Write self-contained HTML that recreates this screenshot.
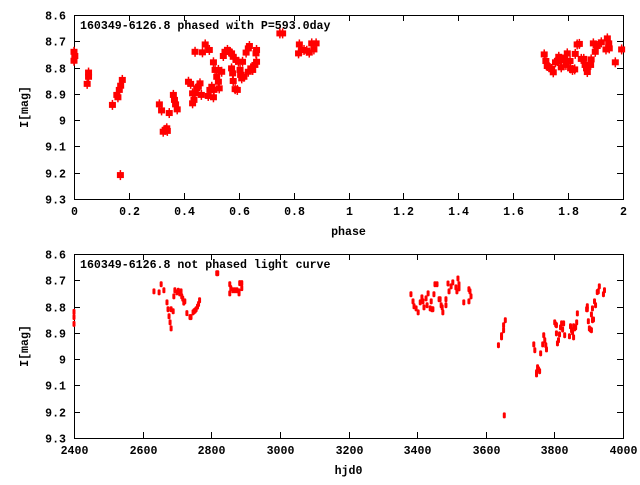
<!DOCTYPE html>
<html><head><meta charset="utf-8"><style>
body{margin:0;background:#fff}
svg text{font-family:"Liberation Mono","DejaVu Sans Mono",monospace;font-weight:bold;font-size:11.6px;fill:#000}
</style></head><body>
<svg id="c" width="640" height="480" xmlns="http://www.w3.org/2000/svg"></svg>
<script>
const topPhase=[0.0,0.0,0.003,0.048,0.053,0.053,0.14,0.156,0.160,0.165,0.170,0.176,0.169,0.311,0.319,0.325,0.332,0.338,0.340,0.347,0.362,0.366,0.370,0.376,0.417,0.425,0.432,0.432,0.437,0.441,0.441,0.447,0.453,0.459,0.464,0.468,0.478,0.489,0.493,0.495,0.502,0.508,0.508,0.510,0.514,0.520,0.526,0.529,0.526,0.538,0.544,0.550,0.559,0.566,0.574,0.580,0.574,0.578,0.580,0.587,0.595,0.590,0.599,0.605,0.607,0.614,0.611,0.619,0.627,0.635,0.639,0.635,0.644,0.651,0.659,0.665,0.663,0.665,0.750,0.760,0.818,0.821,0.829,0.838,0.848,0.857,0.866,0.874,0.882,
1.713,1.719,1.724,1.731,1.740,1.746,1.754,1.761,1.766,1.771,1.775,1.783,1.788,1.792,1.797,1.807,1.809,1.816,1.824,1.826,1.833,1.841,1.848,1.857,1.862,1.867,1.870,1.882,1.884,1.892,1.899,1.906,1.921,1.938,1.943,1.948,1.950,1.972,1.995];
const topMag=[8.774,8.740,8.756,8.862,8.819,8.835,8.942,8.904,8.913,8.885,8.869,8.847,9.209,8.940,8.963,9.044,9.037,9.031,9.041,8.973,8.904,8.923,8.940,8.959,8.854,8.862,8.898,8.936,8.923,8.898,8.740,8.879,8.873,8.860,8.904,8.742,8.712,8.908,8.733,8.885,8.873,8.913,8.780,8.885,8.809,8.835,8.854,8.879,8.809,8.816,8.756,8.740,8.733,8.740,8.746,8.759,8.803,8.822,8.851,8.882,8.885,8.771,8.778,8.809,8.828,8.778,8.841,8.835,8.743,8.727,8.718,8.816,8.803,8.809,8.790,8.778,8.746,8.733,8.670,8.670,8.746,8.712,8.733,8.733,8.736,8.743,8.708,8.731,8.708,
8.750,8.775,8.794,8.799,8.805,8.818,8.780,8.775,8.759,8.771,8.799,8.771,8.762,8.790,8.746,8.775,8.803,8.809,8.807,8.748,8.712,8.710,8.767,8.767,8.790,8.803,8.817,8.790,8.769,8.708,8.740,8.718,8.704,8.731,8.689,8.708,8.727,8.780,8.731];
const botHjd=[2400,2400,2400,2633,2648,2654,2662,2671,2674,2677,2680,2683,2683,2689,2691,2694,2700,2704,2708,2712,2714,2717,2720,2723,2729,2738,2741,2747,2750,2753,2756,2760,2763,2766,2816,2819,2854,2854,2857,2863,2869,2875,2881,2881,2883,2889,2889,
3382,3388,3391,3397,3403,3409,3414,3417,3420,3426,3429,3432,3438,3441,3443,3446,3449,3452,3458,3464,3467,3470,3473,3475,3484,3484,3490,3493,3499,3504,3513,3516,3519,3522,3522,3536,3551,3551,3554,3557,
3637,3646,3646,3652,3652,3657,3654,3740,3743,3748,3748,3751,3754,3757,3760,3766,3769,3772,3775,3777,3801,3804,3806,3806,3809,3812,3815,3818,3821,3824,3827,3830,3844,3847,3850,3853,3856,3856,3859,3862,3865,3867,3894,3896,3896,3899,3902,3905,3908,3908,3911,3911,3914,3917,3920,3925,3928,3931,3943,3946];
const botMag=[8.820,8.840,8.866,8.742,8.746,8.715,8.738,8.784,8.810,8.837,8.860,8.883,8.810,8.818,8.761,8.738,8.746,8.740,8.750,8.742,8.761,8.770,8.785,8.780,8.825,8.840,8.840,8.822,8.818,8.815,8.810,8.800,8.790,8.776,8.673,8.673,8.715,8.750,8.730,8.738,8.738,8.738,8.742,8.750,8.711,8.711,8.730,
8.753,8.780,8.799,8.807,8.822,8.784,8.765,8.780,8.803,8.769,8.795,8.750,8.807,8.780,8.810,8.810,8.753,8.715,8.715,8.772,8.772,8.795,8.803,8.822,8.772,8.795,8.712,8.742,8.723,8.708,8.727,8.742,8.693,8.715,8.731,8.784,8.734,8.780,8.742,8.761,
8.947,8.909,8.917,8.890,8.871,8.852,9.214,8.944,8.966,9.050,9.058,9.031,9.039,9.046,8.978,8.944,8.909,8.928,8.947,8.963,8.860,8.868,8.871,8.902,8.940,8.928,8.906,8.879,8.864,8.887,8.864,8.909,8.913,8.875,8.890,8.898,8.875,8.917,8.883,8.879,8.860,8.826,8.810,8.799,8.810,8.856,8.883,8.887,8.890,8.830,8.807,8.852,8.849,8.780,8.795,8.745,8.742,8.723,8.753,8.738];
const yTicks=["8.6","8.7","8.8","8.9","9","9.1","9.2","9.3"];
const topXTicks=["0","0.2","0.4","0.6","0.8","1","1.2","1.4","1.6","1.8","2"];
const botXTicks=["2400","2600","2800","3000","3200","3400","3600","3800","4000"];

const S=document.getElementById('c');const NS='http://www.w3.org/2000/svg';
function mk(t,a,p){const e=document.createElementNS(NS,t);for(const k in a)e.setAttribute(k,a[k]);(p||S).appendChild(e);return e;}
const L=74,R=623;
function panel(name,y0,y1,xmin,xmax,ticks,xs,ys,title,xlabel,big){
  const g=mk('g',{});
  
  
  const X=v=>L+(v-xmin)/(xmax-xmin)*(R-L);
  const Y=v=>y0+(v-8.6)/0.7*(y1-y0);
  const fr=mk('rect',{x:L+.5,y:y0+.5,width:R-L,height:y1-y0,fill:'none',stroke:'#000','stroke-width':1},g);
  
  
  yTicks.forEach(t=>{const y=Math.round(Y(parseFloat(t)))+.5;
    mk('line',{x1:L,x2:L+6,y1:y,y2:y,stroke:'#000'},g);mk('line',{x1:R-6,x2:R,y1:y,y2:y,stroke:'#000'},g);
    const tx=mk('text',{x:L-8,y:y+4,'text-anchor':'end'},g);tx.textContent=t;
    
    });
  ticks.forEach(t=>{const x=Math.round(X(parseFloat(t)))+.5;
    mk('line',{x1:x,x2:x,y1:y1,y2:y1-6,stroke:'#000'},g);mk('line',{x1:x,x2:x,y1:y0,y2:y0+6,stroke:'#000'},g);
    const tx=mk('text',{x:x,y:y1+16,'text-anchor':'middle'},g);tx.textContent=t;
    
    });
  const tt=mk('text',{x:80,y:y0+14},g);tt.textContent=title;
  
  
  const xl=mk('text',{x:(L+R)/2,y:y1+36,'text-anchor':'middle'},g);xl.textContent=xlabel;
  
  
  const yc=(y0+y1)/2;const yl=mk('text',{x:28,y:yc,'text-anchor':'middle',transform:`rotate(-90 28 ${yc})`},g);yl.textContent='I[mag]';
  
  
  xs.forEach((v,i)=>{const x=X(v),y=Y(ys[i]);let m;
    if(big){m=mk('rect',{x:x-3.5,y:y-3,width:7,height:6,fill:'#f00'},g);mk('line',{x1:x,x2:x,y1:y-5,y2:y+5,stroke:'#f00','stroke-width':1.5},g);}
    else{m=mk('rect',{x:x-1.5,y:y-3,width:3,height:6,rx:1.2,fill:'#f00'},g);}
    
    });
}
panel('phased-plot',15,199,0,2,topXTicks,topPhase,topMag,'160349-6126.8 phased with P=593.0day','phase',true);
panel('light-curve-plot',254,438,2400,4000,botXTicks,botHjd,botMag,'160349-6126.8 not phased light curve','hjd0',false);
</script>
</body></html>
